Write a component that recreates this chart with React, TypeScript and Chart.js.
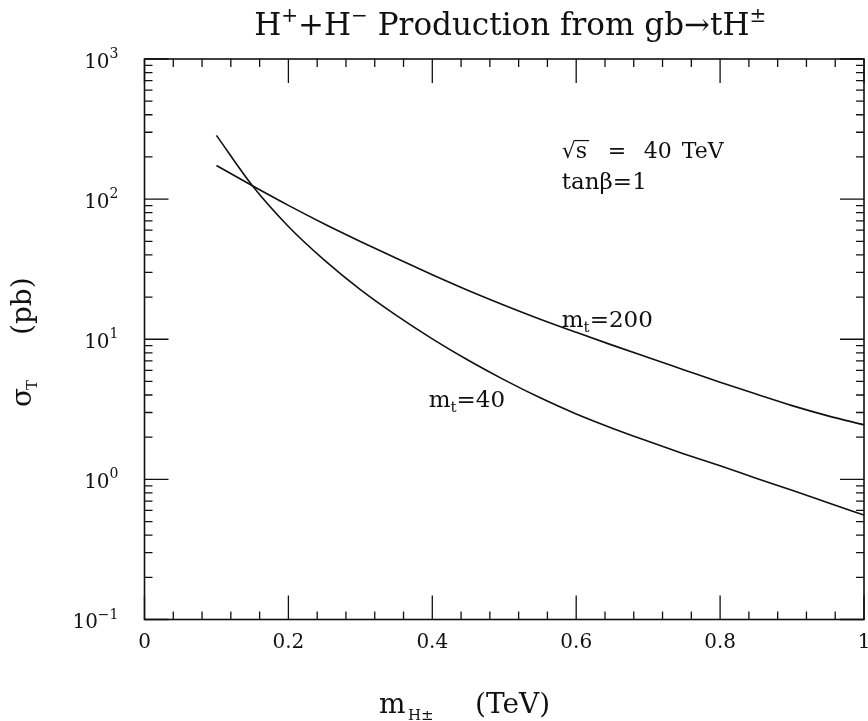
import React, { useEffect, useRef } from 'react';
import { Chart, registerables } from 'chart.js';

Chart.register(...registerables);

// ---- data ----
const massTeV = [0.1, 0.15, 0.2, 0.25, 0.3, 0.35, 0.4, 0.45, 0.5, 0.55, 0.6, 0.65, 0.7, 0.75, 0.8, 0.85, 0.9, 0.95, 1.0];
const sigmaMt200 = [173.8, 124.5, 90.2, 66.5, 49.9, 37.8, 28.9, 22.3, 17.5, 13.9, 11.2, 9.08, 7.40, 6.04, 4.93, 4.06, 3.36, 2.84, 2.45];
const sigmaMt40 = [285, 124.5, 63.8, 36.7, 22.6, 14.8, 10.07, 7.08, 5.13, 3.82, 2.93, 2.32, 1.87, 1.52, 1.25, 1.02, 0.836, 0.682, 0.556];

const xMajorTicks = [0, 0.2, 0.4, 0.6, 0.8, 1];
const xTickLabels = ['0', '0.2', '0.4', '0.6', '0.8', '1'];
const xMinorStep = 0.04;
const yDecades = [0.1, 1, 10, 100, 1000];
const yTickExponents = ['\u22121', '0', '1', '2', '3'];

const FONT = '"DejaVu Serif", serif';
const INK = '#111';

type Part = { t: string; size: number; dy?: number; at?: number };

function partsWidth(ctx: CanvasRenderingContext2D, parts: Part[]) {
  let w = 0;
  for (const p of parts) {
    ctx.font = `${p.size}px ${FONT}`;
    w += ctx.measureText(p.t).width;
  }
  return w;
}

function drawParts(ctx: CanvasRenderingContext2D, x: number, baseline: number, parts: Part[], align: 'left' | 'center' | 'right' = 'left') {
  const total = partsWidth(ctx, parts);
  let cx = align === 'left' ? x : align === 'right' ? x - total : x - total / 2;
  ctx.textAlign = 'left';
  ctx.textBaseline = 'alphabetic';
  for (const p of parts) {
    ctx.font = `${p.size}px ${FONT}`;
    const px = p.at !== undefined ? x + p.at : cx;
    ctx.fillText(p.t, px, baseline + (p.dy || 0));
    cx = px + ctx.measureText(p.t).width;
  }
}

const framePlugin = {
  id: 'framePlugin',
  afterDraw(chart: any) {
    const ctx: CanvasRenderingContext2D = chart.ctx;
    const { left, right, top, bottom } = chart.chartArea;
    const xs = chart.scales.x;
    const ys = chart.scales.y;
    ctx.save();
    ctx.strokeStyle = INK;
    ctx.fillStyle = INK;
    ctx.lineWidth = 1.6;
    ctx.strokeRect(left, top, right - left, bottom - top);

    // x ticks (bottom + top, inward)
    ctx.lineWidth = 1.3;
    const nMinor = Math.round(1 / xMinorStep);
    for (let i = 0; i <= nMinor; i++) {
      const v = i * xMinorStep;
      const px = xs.getPixelForValue(v);
      const major = i % 5 === 0;
      const len = major ? 24 : 8;
      ctx.beginPath();
      ctx.moveTo(px, bottom);
      ctx.lineTo(px, bottom - len);
      ctx.moveTo(px, top);
      ctx.lineTo(px, top + len);
      ctx.stroke();
    }
    // y ticks (left + right, inward)
    for (let d = 0; d < yDecades.length; d++) {
      for (let m = 1; m <= 9; m++) {
        if (d === yDecades.length - 1 && m > 1) break;
        const v = yDecades[d] * m;
        const py = ys.getPixelForValue(v);
        const len = m === 1 ? 24 : 8;
        ctx.beginPath();
        ctx.moveTo(left, py);
        ctx.lineTo(left + len, py);
        ctx.moveTo(right, py);
        ctx.lineTo(right - len, py);
        ctx.stroke();
      }
    }

    // x tick labels
    xMajorTicks.forEach((v, i) => {
      drawParts(ctx, xs.getPixelForValue(v), bottom + 28, [{ t: xTickLabels[i], size: 20 }], 'center');
    });
    // y tick labels
    yDecades.forEach((v, i) => {
      const py = ys.getPixelForValue(v);
      drawParts(ctx, left - 26, py + 8.5, [
        { t: '10', size: 20 },
        { t: yTickExponents[i], size: 14, dy: -9.5 },
      ], 'right');
    });

    // title
    drawParts(ctx, (left + right) / 2 + 6, 35, [
      { t: 'H', size: 31 },
      { t: '+', size: 20, dy: -13 },
      { t: '+H', size: 31 },
      { t: '\u2212', size: 20, dy: -13 },
      { t: ' Production from gb\u2192tH', size: 31 },
      { t: '\u00b1', size: 20, dy: -13 },
    ], 'center');

    // x axis title
    drawParts(ctx, 379, 713, [
      { t: 'm', size: 28, at: 0 },
      { t: 'H\u00b1', size: 15, dy: 7, at: 29 },
      { t: '(TeV)', size: 28, at: 96 },
    ]);

    // y axis title (rotated)
    ctx.save();
    ctx.translate(31, 407);
    ctx.rotate(-Math.PI / 2);
    drawParts(ctx, 0, 0, [
      { t: '\u03c3', size: 28, at: 0 },
      { t: 'T', size: 15, dy: 6, at: 17 },
      { t: '(pb)', size: 28, at: 72 },
    ]);
    ctx.restore();

    // annotations (anchored in data coordinates)
    const ax = xs.getPixelForValue(0.58);
    const b1 = ys.getPixelForValue(198);
    ctx.font = `22px ${FONT}`;
    const rootW = ctx.measureText('\u221a').width;
    drawParts(ctx, ax, b1, [
      { t: '\u221a', size: 22, at: 0 },
      { t: 's', size: 22, at: rootW },
      { t: '=', size: 22, at: 46 },
      { t: '40', size: 22, at: 82 },
      { t: 'TeV', size: 22, at: 120 },
    ]);
    ctx.font = `22px ${FONT}`;
    const sW = ctx.measureText('s').width;
    ctx.lineWidth = 1.2;
    ctx.beginPath();
    ctx.moveTo(ax + rootW - 1, b1 - 17);
    ctx.lineTo(ax + rootW + sW + 2, b1 - 17);
    ctx.stroke();

    drawParts(ctx, ax, ys.getPixelForValue(118), [
      { t: 'tan\u03b2=1', size: 23 },
    ]);

    drawParts(ctx, ax, ys.getPixelForValue(12.3), [
      { t: 'm', size: 23 },
      { t: 't', size: 15, dy: 5 },
      { t: '=200', size: 23 },
    ]);
    drawParts(ctx, xs.getPixelForValue(0.395), ys.getPixelForValue(3.3), [
      { t: 'm', size: 23 },
      { t: 't', size: 15, dy: 5 },
      { t: '=40', size: 23 },
    ]);
    ctx.restore();
  },
};

export default function App() {
  const ref = useRef<HTMLCanvasElement | null>(null);
  useEffect(() => {
    if (!ref.current) return;
    const chart = new Chart(ref.current, {
      type: 'line',
      data: {
        datasets: [
          {
            label: 'm_t=200',
            data: massTeV.map((x, i) => ({ x, y: sigmaMt200[i] })),
            borderColor: INK,
            borderWidth: 1.6,
            pointRadius: 0,
            cubicInterpolationMode: 'monotone',
            fill: false,
          },
          {
            label: 'm_t=40',
            data: massTeV.map((x, i) => ({ x, y: sigmaMt40[i] })),
            borderColor: INK,
            borderWidth: 1.6,
            pointRadius: 0,
            cubicInterpolationMode: 'monotone',
            fill: false,
          },
        ],
      },
      options: {
        responsive: false,
        animation: false,
        layout: { padding: { left: 144.5, right: 4, top: 59, bottom: 101.5 } },
        scales: {
          x: { type: 'linear', min: 0, max: 1, display: false },
          y: { type: 'logarithmic', min: 0.1, max: 1000, display: false },
        },
        plugins: {
          legend: { display: false },
          tooltip: { enabled: false },
          title: { display: false },
        },
      },
      plugins: [framePlugin],
    } as any);
    return () => chart.destroy();
  }, []);
  return (
    <div style={{ position: 'absolute', left: 0, top: 0, width: 868, height: 721, background: '#fff' }}>
      <canvas ref={ref} width={868} height={721} style={{ display: 'block' }} />
    </div>
  );
}
